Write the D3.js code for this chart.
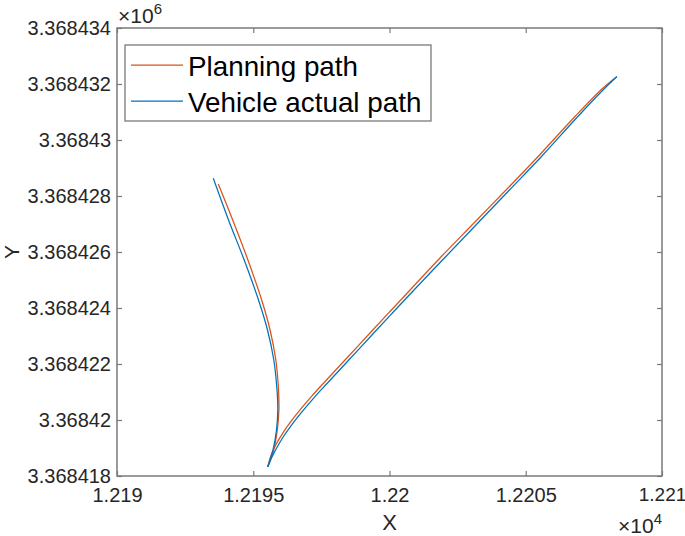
<!DOCTYPE html>
<html>
<head>
<meta charset="utf-8">
<script src="https://cdn.jsdelivr.net/npm/d3@7"></script>
<style>
  html, body { margin: 0; padding: 0; background: #fff; }
  svg { display: block; font-family: "Liberation Sans", Arial, Helvetica, sans-serif; }
</style>
</head>
<body>
<svg id="chart" width="685" height="536"></svg>
<script>
// ---- data ----
const xTicks = [12190, 12195, 12200, 12205, 12210];
const xTickLabels = ["1.219", "1.2195", "1.22", "1.2205", "1.221"];
const yTicks = [3368418, 3368420, 3368422, 3368424, 3368426, 3368428, 3368430, 3368432, 3368434];
const yTickLabels = ["3.368418", "3.36842", "3.368422", "3.368424", "3.368426", "3.368428", "3.36843", "3.368432", "3.368434"];

const seriesNames = ["Planning path", "Vehicle actual path"];
const seriesColors = ["#D95319", "#0072BD"];

// Planning path: reverse branch (top-left down to cusp), then forward branch (cusp up to top-right)
const planX = [12193.717, 12194.246, 12194.804, 12195.310, 12195.618, 12195.828, 12195.927, 12195.941, 12195.883, 12195.750, 12195.541,
               12195.651, 12195.835, 12196.055, 12196.349, 12196.716, 12197.156, 12197.670, 12198.367, 12199.284, 12200.018, 12200.679,
               12201.853, 12203.064, 12204.312, 12205.523, 12206.807, 12207.835, 12208.338];
const planY = [3368428.429, 3368427.143, 3368425.714, 3368424.286, 3368423.214, 3368422.143, 3368421.071, 3368420.357, 3368419.643, 3368418.929, 3368418.357,
               3368418.732, 3368419.125, 3368419.489, 3368419.904, 3368420.361, 3368420.861, 3368421.411, 3368422.143, 3368423.107, 3368423.875, 3368424.564,
               3368425.786, 3368427.000, 3368428.250, 3368429.482, 3368430.839, 3368431.857, 3368432.261];
// Vehicle actual path
const actX = [12193.534, 12194.092, 12194.668, 12195.193, 12195.523, 12195.754, 12195.872, 12195.901, 12195.853, 12195.725, 12195.530,
              12195.688, 12195.890, 12196.110, 12196.404, 12196.771, 12197.211, 12197.725, 12198.422, 12199.339, 12200.073, 12200.734,
              12201.927, 12203.138, 12204.367, 12205.578, 12206.844, 12207.853, 12208.349];
const actY = [3368428.632, 3368427.143, 3368425.714, 3368424.286, 3368423.214, 3368422.143, 3368421.071, 3368420.357, 3368419.643, 3368418.929, 3368418.321,
              3368418.679, 3368419.054, 3368419.411, 3368419.821, 3368420.275, 3368420.775, 3368421.321, 3368422.054, 3368423.018, 3368423.786, 3368424.475,
              3368425.696, 3368426.929, 3368428.179, 3368429.411, 3368430.768, 3368431.804, 3368432.268];
const cuspIndex = 10;

// ---- layout ----
const W = 685, H = 536;
const mLeft = 117, mRight = 662, mTop = 28, mBottom = 476;
const axisColor = "#7a7a7a";
const textColor = "#262626";

const svg = d3.select("#chart");
svg.append("rect").attr("width", W).attr("height", H).attr("fill", "#fff");

const x = d3.scaleLinear().domain([12190, 12210]).range([mLeft, mRight]);
const y = d3.scaleLinear().domain([3368418, 3368434]).range([mBottom, mTop]);

// ---- lines ----
const line = d3.line().x(d => x(d[0])).y(d => y(d[1])).curve(d3.curveCatmullRom.alpha(0.5));
function drawSeries(xs, ys, color) {
  const pts = xs.map((v, i) => [v, ys[i]]);
  const segs = [pts.slice(0, cuspIndex + 1), pts.slice(cuspIndex)];
  segs.forEach(seg => {
    svg.append("path").datum(seg)
      .attr("d", line)
      .attr("fill", "none")
      .attr("stroke", color)
      .attr("stroke-width", 1.25)
      .attr("stroke-linejoin", "round");
  });
}
drawSeries(planX, planY, seriesColors[0]);
drawSeries(actX, actY, seriesColors[1]);

// ---- axes ----
const fmtX = d => xTickLabels[xTicks.indexOf(d)];
const fmtY = d => yTickLabels[yTicks.indexOf(d)];

const gB = svg.append("g").attr("transform", `translate(0,${mBottom})`)
  .call(d3.axisBottom(x).tickValues(xTicks).tickFormat(fmtX).tickSizeInner(-5).tickSizeOuter(0).tickPadding(12));
const gT = svg.append("g").attr("transform", `translate(0,${mTop})`)
  .call(d3.axisTop(x).tickValues(xTicks).tickFormat("").tickSizeInner(-5).tickSizeOuter(0));
const gL = svg.append("g").attr("transform", `translate(${mLeft},0)`)
  .call(d3.axisLeft(y).tickValues(yTicks).tickFormat(fmtY).tickSizeInner(-5).tickSizeOuter(0).tickPadding(6));
const gR = svg.append("g").attr("transform", `translate(${mRight},0)`)
  .call(d3.axisRight(y).tickValues(yTicks).tickFormat("").tickSizeInner(-5).tickSizeOuter(0));

[gB, gT, gL, gR].forEach(g => {
  g.select(".domain").remove();
  g.selectAll(".tick line").attr("stroke", axisColor).attr("stroke-width", 1.2);
  g.selectAll(".tick text").attr("fill", textColor).style("font-size", "20px")
    .style("font-family", "'Liberation Sans', Arial, Helvetica, sans-serif");
});
// keep the last x tick label inside the canvas
gB.selectAll(".tick text").filter(d => d === xTicks[xTicks.length - 1]).style("font-size", "19px");

svg.append("rect")
  .attr("x", mLeft).attr("y", mTop)
  .attr("width", mRight - mLeft).attr("height", mBottom - mTop)
  .attr("fill", "none").attr("stroke", axisColor).attr("stroke-width", 1.5);

// ---- axis labels ----
svg.append("text").attr("x", (mLeft + mRight) / 2).attr("y", 530)
  .attr("text-anchor", "middle").attr("fill", textColor).style("font-size", "22px").text("X");
svg.append("text").attr("transform", `translate(19,${(mTop + mBottom) / 2}) rotate(-90)`)
  .attr("text-anchor", "middle").attr("fill", textColor).style("font-size", "21px").text("Y");

// exponent labels
const e6 = svg.append("text").attr("x", 118).attr("y", 23).attr("fill", textColor).style("font-size", "21px");
e6.append("tspan").text("×10");
e6.append("tspan").attr("dy", -9).style("font-size", "15px").text("6");

const e4 = svg.append("text").attr("x", 662).attr("y", 533).attr("text-anchor", "end").attr("fill", textColor).style("font-size", "21px");
e4.append("tspan").text("×10");
e4.append("tspan").attr("dy", -9).style("font-size", "15px").text("4");

// ---- legend ----
const lg = svg.append("g");
lg.append("rect").attr("x", 125).attr("y", 45).attr("width", 306).attr("height", 76)
  .attr("fill", "#fff").attr("stroke", axisColor).attr("stroke-width", 1.3);
const legY = [65, 101];
seriesNames.forEach((name, i) => {
  lg.append("line").attr("x1", 131).attr("x2", 183).attr("y1", legY[i]).attr("y2", legY[i])
    .attr("stroke", seriesColors[i]).attr("stroke-width", 1.25);
  lg.append("text").attr("x", 188).attr("y", legY[i] + 10.5)
    .attr("fill", "#000").style("font-size", "27.8px").text(name);
});
</script>
</body>
</html>
